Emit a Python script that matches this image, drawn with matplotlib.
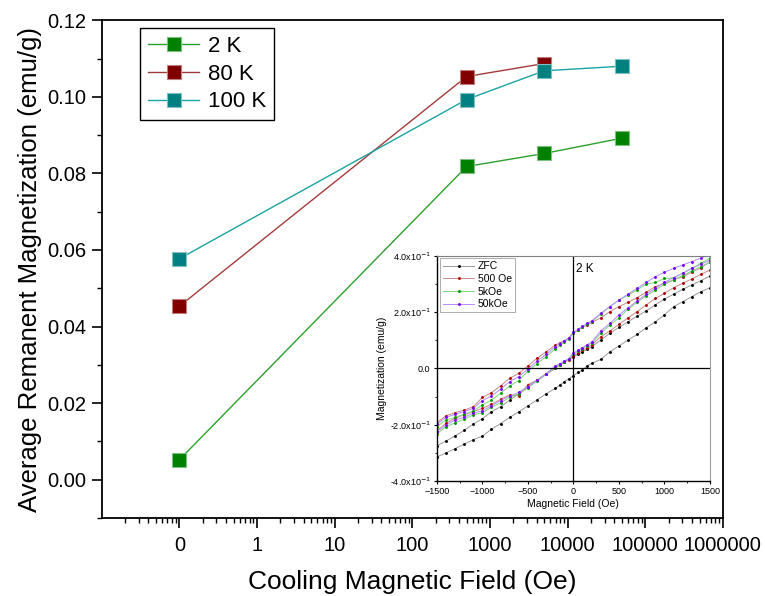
import matplotlib
matplotlib.use("Agg")
import matplotlib.pyplot as plt
from matplotlib.ticker import FixedLocator, FixedFormatter, LogLocator, MultipleLocator, NullFormatter

plt.rcParams['font.family'] = ['Liberation Sans', 'DejaVu Sans']

# main chart data (0 Oe drawn at the "0" tick, i.e. 0.1 on the log axis)
cool_field = [0.1, 500, 5000, 50000]
rem_2k = [0.0052, 0.0818, 0.0852, 0.0892]
rem_80k = [0.0453, 0.1053, 0.1087]
rem_100k = [0.0577, 0.0993, 0.1068, 0.1080]
x_ticks = [0.1, 1, 10, 100, 1000, 10000, 100000, 1000000]
x_ticklabels = ['0', '1', '10', '100', '1000', '10000', '100000', '1000000']

# inset data: hysteresis loops at 2 K
field = [-1500, -1400, -1300, -1200, -1100, -1000, -900, -800, -700, -600, -500, -400, -300, -200,
         -150, -100, -50, 0, 50, 100, 150,
         200, 300, 400, 500, 600, 700, 800, 900, 1000, 1100, 1200, 1300, 1400, 1500]

zfc_up = [-0.315, -0.300, -0.285, -0.269, -0.253, -0.241, -0.216, -0.196, -0.174, -0.154, -0.133, -0.112, -0.090, -0.071,
          -0.059, -0.047, -0.036, -0.026, -0.014, -0.006, 0.009,
          0.018, 0.032, 0.059, 0.080, 0.101, 0.121, 0.145, 0.166, 0.190, 0.220, 0.237, 0.255, 0.273, 0.287]
zfc_down = [-0.275, -0.258, -0.240, -0.220, -0.198, -0.178, -0.154, -0.136, -0.113, -0.089, -0.065, -0.042, -0.018, 0.006,
            0.015, 0.024, 0.033, 0.042, 0.050, 0.059, 0.068,
            0.077, 0.101, 0.125, 0.146, 0.166, 0.186, 0.205, 0.226, 0.247, 0.264, 0.281, 0.297, 0.312, 0.329]

oe500_down = [-0.193, -0.168, -0.157, -0.148, -0.136, -0.103, -0.086, -0.062, -0.035, -0.017, 0.009, 0.036, 0.059, 0.083,
              0.091, 0.099, 0.108, 0.127, 0.137, 0.146, 0.155,
              0.164, 0.180, 0.202, 0.220, 0.235, 0.252, 0.271, 0.291, 0.303, 0.315, 0.326, 0.342, 0.358, 0.380]
oe500_up = [-0.222, -0.195, -0.177, -0.165, -0.153, -0.142, -0.127, -0.110, -0.094, -0.097, -0.057, -0.042, -0.021, 0.000,
            0.012, 0.022, 0.030, 0.045, 0.055, 0.064, 0.074,
            0.083, 0.113, 0.133, 0.157, 0.180, 0.202, 0.226, 0.249, 0.267, 0.287, 0.303, 0.318, 0.335, 0.350]

koe5_down = [-0.207, -0.183, -0.174, -0.163, -0.151, -0.130, -0.112, -0.088, -0.062, -0.043, -0.009, 0.017, 0.042, 0.069,
             0.082, 0.094, 0.105, 0.125, 0.137, 0.147, 0.157,
             0.166, 0.193, 0.220, 0.243, 0.261, 0.279, 0.300, 0.306, 0.320, 0.322, 0.338, 0.356, 0.374, 0.392]
koe5_up = [-0.232, -0.208, -0.193, -0.181, -0.165, -0.157, -0.138, -0.122, -0.103, -0.090, -0.069, -0.045, -0.021, 0.002,
           0.013, 0.024, 0.033, 0.052, 0.061, 0.071, 0.081,
           0.089, 0.125, 0.154, 0.180, 0.211, 0.235, 0.259, 0.279, 0.299, 0.315, 0.330, 0.347, 0.362, 0.377]

koe50_down = [-0.198, -0.174, -0.163, -0.153, -0.142, -0.114, -0.098, -0.074, -0.047, -0.029, -0.002, 0.026, 0.050, 0.077,
              0.088, 0.098, 0.110, 0.128, 0.139, 0.150, 0.160,
              0.169, 0.196, 0.220, 0.243, 0.264, 0.285, 0.306, 0.326, 0.342, 0.356, 0.368, 0.380, 0.392, 0.406]
koe50_up = [-0.225, -0.202, -0.183, -0.174, -0.159, -0.150, -0.133, -0.114, -0.098, -0.085, -0.065, -0.042, -0.021, 0.009,
            0.016, 0.026, 0.035, 0.055, 0.064, 0.074, 0.085,
            0.093, 0.133, 0.160, 0.190, 0.216, 0.240, 0.264, 0.285, 0.306, 0.323, 0.338, 0.356, 0.370, 0.386]

fig = plt.figure(figsize=(7.65, 5.96), dpi=100)
ax = fig.add_axes([0.133, 0.131, 0.812, 0.835])

ax.plot(cool_field, rem_2k, color='#2ca02c', lw=1.0, marker='s', ms=10,
        mfc='#008000', mec='#7fbf7f', mew=0.8, label='2 K')
ax.plot(cool_field[:3], rem_80k, color='#a33a3a', lw=1.0, marker='s', ms=10,
        mfc='#800000', mec='#bf7f7f', mew=0.8, label='80 K')
ax.plot(cool_field, rem_100k, color='#1aa3a3', lw=1.0, marker='s', ms=10,
        mfc='#008080', mec='#7fbfbf', mew=0.8, label='100 K')

ax.set_xscale('log')
ax.set_xlim(0.01, 1e6)
ax.set_ylim(-0.01, 0.12)
ax.xaxis.set_major_locator(FixedLocator(x_ticks))
ax.xaxis.set_major_formatter(FixedFormatter(x_ticklabels))
ax.xaxis.set_minor_locator(LogLocator(base=10, subs=range(2, 10), numticks=20))
ax.xaxis.set_minor_formatter(NullFormatter())
ax.yaxis.set_major_locator(MultipleLocator(0.02))
ax.yaxis.set_minor_locator(MultipleLocator(0.01))
ax.yaxis.set_major_formatter(plt.FuncFormatter(lambda v, p: f'{v:.2f}'))
ax.tick_params(which='major', direction='out', length=7, width=1.2, labelsize=14.5, pad=4)
ax.tick_params(which='minor', direction='out', length=3.5, width=1.0)
ax.tick_params(axis='x', which='major', pad=6)
for s in ax.spines.values():
    s.set_linewidth(1.3)
ax.set_xlabel('Cooling Magnetic Field (Oe)', fontsize=19, labelpad=11)
ax.set_ylabel('Average Remanent Magnetization (emu/g)', fontsize=18.5, labelpad=4)

leg = ax.legend(loc='upper left', bbox_to_anchor=(0.062, 0.984), borderaxespad=0, fontsize=16,
                numpoints=1, handlelength=2.3, handletextpad=0.4, labelspacing=0.3, borderpad=0.35,
                fancybox=False, framealpha=1, edgecolor='black')
leg.get_frame().set_linewidth(1.0)

# inset
ins = fig.add_axes([0.571, 0.193, 0.357, 0.3775])
loops = [
    (zfc_up, zfc_down, '#9a9a9a', '#000000', 'ZFC'),
    (oe500_up, oe500_down, '#c98a8a', '#b00000', '500 Oe'),
    (koe5_up, koe5_down, '#7fd67f', '#009900', '5kOe'),
    (koe50_up, koe50_down, '#b58cff', '#7a00ff', '50kOe'),
]
for up, down, lc, mc, name in loops:
    ins.plot(field, up, color=lc, lw=0.7, marker='.', ms=2.2, mfc=mc, mec=mc, label=name)
    ins.plot(field, down, color=lc, lw=0.7, marker='.', ms=2.2, mfc=mc, mec=mc)

ins.axhline(0, color='black', lw=0.9)
ins.axvline(0, color='black', lw=0.9)
ins.set_xlim(-1500, 1500)
ins.set_ylim(-0.4, 0.4)
ins.xaxis.set_major_locator(MultipleLocator(500))
ins.xaxis.set_minor_locator(MultipleLocator(250))
ins.yaxis.set_major_locator(FixedLocator([-0.4, -0.2, 0.0, 0.2, 0.4]))
ins.yaxis.set_major_formatter(FixedFormatter(['-4.0x10$^{-1}$', '-2.0x10$^{-1}$', '0.0',
                                              '2.0x10$^{-1}$', '4.0x10$^{-1}$']))
ins.yaxis.set_minor_locator(MultipleLocator(0.1))
ins.tick_params(which='major', direction='out', length=2.5, width=0.8, labelsize=6.5, pad=2)
ins.tick_params(which='minor', direction='out', length=1.5, width=0.6)
ins.spines['left'].set_linewidth(1.0)
ins.spines['bottom'].set_linewidth(1.0)
ins.spines['top'].set_color('#808080')
ins.spines['right'].set_color('#a0a0a0')
ins.set_xlabel('Magnetic Field (Oe)', fontsize=7.5, labelpad=2)
ins.set_ylabel('Magnetization (emu/g)', fontsize=7.5, labelpad=2)
ins.text(25, 0.375, '2 K', fontsize=8.5, va='top')
ileg = ins.legend(loc='upper left', bbox_to_anchor=(0.012, 0.99), borderaxespad=0, fontsize=7.5,
                  handlelength=3.0, handletextpad=0.3, labelspacing=0.25, borderpad=0.3,
                  fancybox=False, framealpha=1, edgecolor='#a0a0a0')
ileg.get_frame().set_linewidth(0.6)

fig.savefig('out.png', dpi=100)
